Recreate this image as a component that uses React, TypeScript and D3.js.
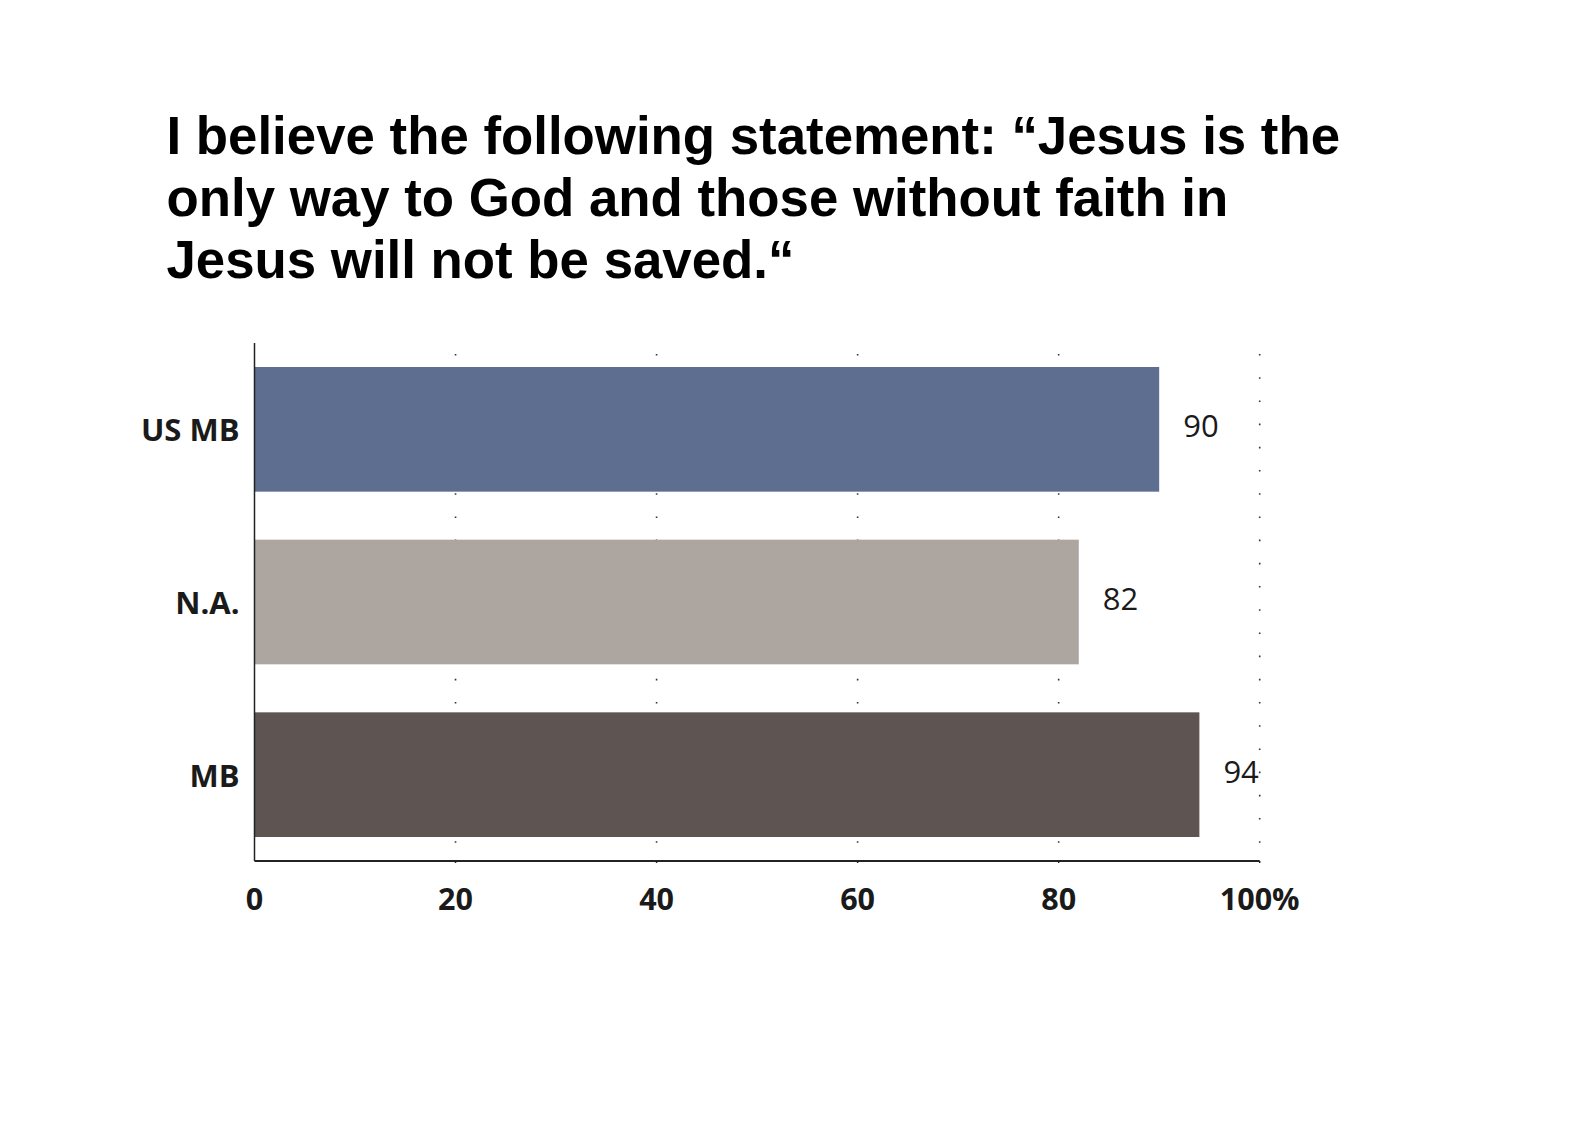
import React from "react";
import * as d3 from "d3";

const titleLines = [
  "I believe the following statement: \u201cJesus is the",
  "only way to God and those without faith in",
  "Jesus will not be saved.\u201c",
];
const categories = ["US MB", "N.A.", "MB"];
const values = [90, 82, 94];
const colors = ["#5E6E91", "#ADA59F", "#5E5553"];
const tickValues = [0, 20, 40, 60, 80, 100];
const tickLabels = ["0", "20", "40", "60", "80", "100%"];

const W = 1585;
const H = 1123;
const plot = { left: 254.5, right: 1259.7, top: 343, bottom: 861 };

export default function App() {
  const x = d3.scaleLinear().domain([0, 100]).range([plot.left, plot.right]);
  const y = d3
    .scaleBand<string>()
    .domain(categories)
    .range([plot.top, plot.bottom])
    .paddingInner(0.278)
    .paddingOuter(0.139);

  const gridValues = tickValues.filter((v) => v > 0);
  const font = "'Open Sans', 'DejaVu Sans', sans-serif";

  return (
    <svg
      width={W}
      height={H}
      style={{ position: "absolute", left: 0, top: 0, display: "block", background: "#fff" }}
    >
      <rect x={0} y={0} width={W} height={H} fill="#fff" />
      {/* Title */}
      <g fontFamily="'Liberation Sans', Arial, sans-serif" fontWeight={700} fontSize={52.8} fill="#000">
        {titleLines.map((t, i) => (
          <text key={i} x={166.5} y={154 + i * 62}>
            {t}
          </text>
        ))}
      </g>

      {/* Dotted grid */}
      <g>
        {gridValues.map((v) => (
          <line
            key={v}
            x1={x(v)}
            x2={x(v)}
            y1={plot.top}
            y2={plot.bottom}
            stroke="#333"
            strokeWidth={1.6}
            strokeDasharray="1.6 21.6"
            strokeDashoffset={12.2}
          />
        ))}
      </g>

      {/* Bars */}
      {categories.map((c, i) => (
        <rect
          key={c}
          x={x(0)}
          y={y(c)}
          width={x(values[i]) - x(0)}
          height={y.bandwidth()}
          fill={colors[i]}
        />
      ))}

      {/* Axes */}
      <line x1={plot.left} x2={plot.left} y1={plot.top} y2={plot.bottom} stroke="#222" strokeWidth={1.5} />
      <line x1={plot.left} x2={plot.right} y1={plot.bottom} y2={plot.bottom} stroke="#222" strokeWidth={2} />
      {gridValues.map((v) => (
        <line key={"t" + v} x1={x(v)} x2={x(v)} y1={plot.bottom} y2={plot.bottom + 2} stroke="#222" strokeWidth={1.5} />
      ))}

      {/* Category labels */}
      <g fontFamily={font} fontWeight={700} fontSize={31} fill="#1a1a1a">
        {categories.map((c) => (
          <text
            key={c}
            x={plot.left - 15}
            y={(y(c) as number) + y.bandwidth() / 2}
            textAnchor="end"
            dominantBaseline="central"
          >
            {c}
          </text>
        ))}
      </g>

      {/* Value labels */}
      <g fontFamily={font} fontWeight={400} fontSize={31} fill="#1a1a1a">
        {categories.map((c, i) => (
          <text
            key={c}
            x={x(values[i]) + 24}
            y={(y(c) as number) + y.bandwidth() / 2 - 4}
            textAnchor="start"
            dominantBaseline="central"
          >
            {values[i]}
          </text>
        ))}
      </g>

      {/* Tick labels */}
      <g fontFamily={font} fontWeight={700} fontSize={30.5} fill="#1a1a1a">
        {tickValues.map((v, i) => (
          <text key={v} x={x(v)} y={910} textAnchor="middle">
            {tickLabels[i]}
          </text>
        ))}
      </g>
    </svg>
  );
}
